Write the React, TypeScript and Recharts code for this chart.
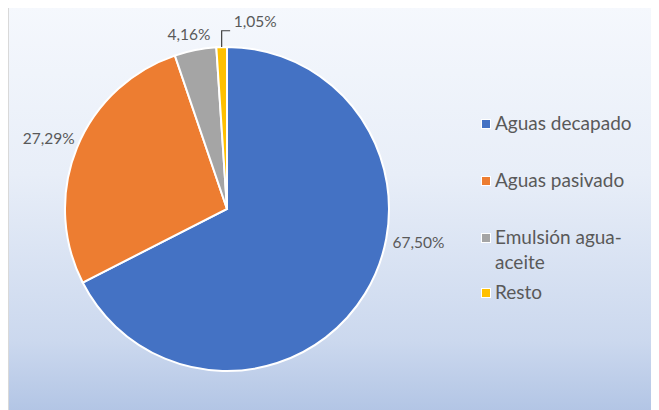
import React from "react";
import { PieChart, Pie, Cell } from "recharts";

const categories = ["Aguas decapado", "Aguas pasivado", "Emulsión agua-aceite", "Resto"];
const legendLines = [["Aguas decapado"], ["Aguas pasivado"], ["Emulsión agua-", "aceite"], ["Resto"]];
const percentages = [67.5, 27.29, 4.16, 1.05];
const colors = ["#4472C4", "#ED7D31", "#A5A5A5", "#FFC000"];

// label placement: polar angle (deg) and distance as a multiple of outer radius
const labelAngles = [-9.8, 158.3, 102.3, 81.5];
const labelDist = [1.2, 1.185, 1.105, 1.175];

const data = categories.map((c, i) => ({ name: c, value: percentages[i] }));

const FONT = "Lato, 'Open Sans', sans-serif";
const TEXT = "#595959";

const fmt = (v: number) => v.toFixed(2).replace(".", ",") + "%";

const renderLabel = (props: any) => {
  const { cx, cy, outerRadius, index, midAngle, value } = props;
  const RAD = Math.PI / 180;
  const a = labelAngles[index];
  const d = labelDist[index] * outerRadius;
  const x = cx + d * Math.cos(a * RAD);
  const y = cy - d * Math.sin(a * RAD);
  const text = (
    <text
      x={x}
      y={y}
      textAnchor="middle"
      dominantBaseline="central"
      fill={TEXT}
      fontSize={15.5}
      fontFamily={FONT}
    >
      {fmt(value)}
    </text>
  );
  if (index === 3) {
    const sx = cx + outerRadius * Math.cos(midAngle * RAD);
    const sy = cy - outerRadius * Math.sin(midAngle * RAD);
    const ty = y + 10;
    const tx = x - 25;
    return (
      <g>
        <polyline
          points={`${sx},${sy} ${sx},${ty} ${tx},${ty}`}
          fill="none"
          stroke="#404040"
          strokeWidth={1.2}
        />
        {text}
      </g>
    );
  }
  return text;
};

const LegendBox = () => (
  <div
    style={{
      position: "absolute",
      left: 472,
      top: 105,
      fontFamily: FONT,
      fontSize: 19,
      color: TEXT,
    }}
  >
    {legendLines.map((lines, i) => (
      <div
        key={i}
        style={{
          display: "flex",
          alignItems: "flex-start",
          marginBottom: i === 2 ? 6 : 33,
        }}
      >
        <div
          style={{
            width: 8,
            height: 8,
            background: colors[i],
            border: "1.5px solid #fff",
            marginTop: 8,
            marginRight: 4,
            flexShrink: 0,
          }}
        />
        <div style={{ lineHeight: "25px", marginTop: -1 }}>
          {lines.map((l, j) => (
            <div key={j}>{l}</div>
          ))}
        </div>
      </div>
    ))}
  </div>
);

export default function App() {
  return (
    <div
      style={{
        marginTop: -3,
        width: 648,
        height: 420,
        border: "1px solid #d9d9d9",
        background:
          "linear-gradient(180deg, #f5f8fd 0%, #e8eef8 40%, #cbd8ee 80%, #adc1e3 100%)",
        position: "relative",
      }}
    >
      <PieChart width={648} height={420}>
        <Pie
          data={data}
          dataKey="value"
          nameKey="name"
          cx={213}
          cy={198}
          outerRadius={162}
          startAngle={90}
          endAngle={-270}
          stroke="#ffffff"
          strokeWidth={2}
          label={renderLabel}
          labelLine={false}
          isAnimationActive={false}
        >
          {data.map((d, i) => (
            <Cell key={i} fill={colors[i]} />
          ))}
        </Pie>
      </PieChart>
      <LegendBox />
    </div>
  );
}
